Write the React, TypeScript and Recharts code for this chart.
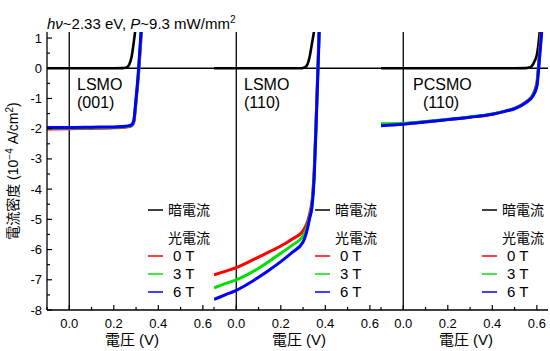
import { LineChart, Line, XAxis, YAxis, ReferenceLine } from "recharts";

const FONT = "'Liberation Sans', Arial, 'Noto Sans CJK JP', sans-serif";

// LSMO (001)
const lsmo001V = [-0.1, 0, 0.1, 0.2, 0.25, 0.27, 0.28, 0.285, 0.29, 0.3, 0.31, 0.32, 0.33];
const lsmo001T0 = [-2.01, -2.0, -1.99, -1.97, -1.95, -1.93, -1.9, -1.86, -1.78, -1.1, -0.3, 0.75, 1.9];
const lsmo001T3 = [-1.98, -1.98, -1.97, -1.955, -1.935, -1.91, -1.88, -1.84, -1.75, -1.05, -0.22, 0.85, 2.0];
const lsmo001T6 = [-1.96, -1.96, -1.95, -1.94, -1.92, -1.9, -1.87, -1.82, -1.72, -1.0, -0.15, 0.95, 2.1];
const lsmo001DarkV = [-0.1, 0.2, 0.24, 0.26, 0.27, 0.28, 0.29, 0.3, 0.31];
const lsmo001Dark = [0, 0, 0.005, 0.04, 0.13, 0.38, 0.88, 1.45, 2.1];

// LSMO (110)
const lsmo110V = [-0.1, -0.05, 0, 0.05, 0.1, 0.15, 0.2, 0.25, 0.3, 0.32, 0.33, 0.34, 0.35, 0.36, 0.37, 0.38];
const lsmo110T0 = [-6.84, -6.72, -6.6, -6.43, -6.25, -6.07, -5.88, -5.66, -5.38, -5.08, -4.8, -4.4, -3.4, -1.4, 0.8, 3.2];
const lsmo110T3 = [-7.27, -7.13, -7.0, -6.83, -6.62, -6.38, -6.12, -5.86, -5.55, -5.2, -4.9, -4.5, -3.5, -1.5, 0.7, 3.1];
const lsmo110T6 = [-7.65, -7.5, -7.35, -7.15, -6.92, -6.67, -6.4, -6.1, -5.75, -5.3, -4.95, -4.6, -3.6, -1.6, 0.6, 3.0];
const lsmo110DarkV = [-0.1, 0.25, 0.29, 0.3, 0.31, 0.32, 0.33, 0.34, 0.35, 0.36];
const lsmo110Dark = [0, 0, 0, 0.01, 0.04, 0.13, 0.4, 0.82, 1.25, 1.7];

// PCSMO (110)
const pcsmoV = [-0.1, 0, 0.1, 0.2, 0.3, 0.4, 0.46, 0.5, 0.55, 0.58, 0.6, 0.61, 0.62, 0.63, 0.64];
const pcsmoT0 = [-1.87, -1.84, -1.77, -1.7, -1.62, -1.52, -1.42, -1.33, -1.12, -0.9, -0.48, 0.35, 1.3, 2.3, 3.3];
const pcsmoT3 = [-1.84, -1.82, -1.76, -1.69, -1.61, -1.51, -1.41, -1.33, -1.13, -0.92, -0.55, 0.22, 1.12, 2.1, 3.1];
const pcsmoT6 = [-1.9, -1.85, -1.78, -1.7, -1.62, -1.52, -1.42, -1.34, -1.14, -0.94, -0.6, 0.15, 1.05, 2.0, 3.0];
const pcsmoDarkV = [-0.1, 0.5, 0.55, 0.57, 0.58, 0.59, 0.6, 0.61, 0.62];
const pcsmoDark = [0, 0, 0.005, 0.03, 0.1, 0.24, 0.45, 1.0, 1.9];

const yTicks = [-8, -7.5, -7, -6.5, -6, -5.5, -5, -4.5, -4, -3.5, -3, -2.5, -2, -1.5, -1, -0.5, 0, 0.5, 1];
const xTicks = [-0.1, 0, 0.1, 0.2, 0.3, 0.4, 0.5, 0.6];
const legendItems = ["0 T", "3 T", "6 T"];
const photoColors = ["#ff0000", "#00e000", "#0000ff"];

const zip = (v: number[], j: number[]) => v.map((x, i) => ({ v: x, j: j[i] }));

function YTick(props: any) {
  const { x, y, payload, showLabel } = props;
  const major = Number.isInteger(payload.value);
  return (
    <g>
      <line x1={x} x2={x + (major ? 5 : 3)} y1={y} y2={y} stroke="#000" strokeWidth={1.2} />
      {showLabel && major && (
        <text x={x - 5} y={y} dy={4.5} textAnchor="end" fontSize={13} fontFamily={FONT} fill="#000">
          {payload.value}
        </text>
      )}
    </g>
  );
}

function XTick(props: any) {
  const { x, y, payload } = props;
  const major = Math.round(payload.value * 10) % 2 === 0;
  return (
    <g>
      <line x1={x} x2={x} y1={y} y2={y - (major ? 5 : 3)} stroke="#000" strokeWidth={1.2} />
      {major && (
        <text x={x} y={y + 18} textAnchor="middle" fontSize={13} fontFamily={FONT} fill="#000">
          {payload.value.toFixed(1)}
        </text>
      )}
    </g>
  );
}

interface PanelProps {
  left: number;
  first: boolean;
  v: number[];
  photo: number[][];
  darkV: number[];
  dark: number[];
}

function Panel({ left, first, v, photo, darkV, dark }: PanelProps) {
  const yw = first ? 47 : 0;
  const width = first ? 218 : 175;
  const axisLine = { stroke: "#000", strokeWidth: 1.3 };
  return (
    <div style={{ position: "absolute", left, top: 0 }}>
      <LineChart
        width={width}
        height={351}
        margin={{ top: 32, right: 4, bottom: 0, left: first ? 0 : 4 }}
      >
        <XAxis
          dataKey="v"
          type="number"
          domain={[-0.1, 0.65]}
          ticks={xTicks}
          interval={0}
          tickSize={0}
          tickMargin={0}
          tickLine={false}
          tick={<XTick />}
          height={41}
          axisLine={axisLine}
          allowDataOverflow
        />
        <XAxis
          xAxisId="top"
          orientation="top"
          type="number"
          domain={[-0.1, 0.65]}
          height={0}
          tick={false}
          tickLine={false}
          axisLine={axisLine}
        />
        <YAxis
          type="number"
          domain={[-8, 1.2]}
          ticks={yTicks}
          interval={0}
          width={yw}
          tickSize={0}
          tickMargin={0}
          tickLine={false}
          tick={<YTick showLabel={first} />}
          axisLine={axisLine}
          allowDataOverflow
        />
        <YAxis
          yAxisId="right"
          orientation="right"
          type="number"
          domain={[-8, 1.2]}
          width={0}
          tick={false}
          tickLine={false}
          axisLine={axisLine}
        />
        <ReferenceLine y={0} stroke="#000" strokeWidth={1.3} />
        <ReferenceLine x={0} stroke="#000" strokeWidth={1.3} />
        <Line
          data={zip(darkV, dark)}
          dataKey="j"
          type="monotone"
          stroke="#000"
          strokeWidth={2.6}
          dot={false}
          activeDot={false}
          isAnimationActive={false}
        />
        {photo.map((j, i) => (
          <Line
            key={i}
            data={zip(v, j)}
            dataKey="j"
            type="monotone"
            stroke={photoColors[i]}
            strokeWidth={3}
            dot={false}
            activeDot={false}
            isAnimationActive={false}
          />
        ))}
      </LineChart>
    </div>
  );
}

const panelLefts = [47, 214, 381];
const sampleNames = [
  ["LSMO", "(001)"],
  ["LSMO", "(110)"],
  ["PCSMO", "(110)"],
];

function Overlay() {
  return (
    <svg
      width={550}
      height={351}
      style={{ position: "absolute", left: 0, top: 0, pointerEvents: "none" }}
      fontFamily={FONT}
    >
      <text x={47} y={29} fontSize={15} fill="#000">
        <tspan fontStyle="italic">hν</tspan>~2.33 eV, <tspan fontStyle="italic">P</tspan>~9.3 mW/mm
        <tspan dy={-6} fontSize={10}>2</tspan>
      </text>
      <text x={18} y={171} fontSize={14} textAnchor="middle" transform="rotate(-90 18 171)" fill="#000">
        電流密度 (10<tspan dy={-5} fontSize={10}>−4</tspan>
        <tspan dy={5}> A/cm</tspan>
        <tspan dy={-5} fontSize={10}>2</tspan>
        <tspan dy={5}>)</tspan>
      </text>
      {panelLefts.map((pl, k) => (
        <g key={k}>
          <text x={pl + (k === 2 ? 32 : 30)} y={90} fontSize={16} fill="#000">
            {sampleNames[k][0]}
          </text>
          <text x={pl + (k === 2 ? 42 : 30)} y={108} fontSize={16} fill="#000">
            {sampleNames[k][1]}
          </text>
          <text x={pl + 85} y={345} fontSize={15} textAnchor="middle" fill="#000">
            電圧 (V)
          </text>
          <line x1={pl + 101} x2={pl + 116} y1={210} y2={210} stroke="#000" strokeWidth={1.5} />
          <text x={pl + 163} y={215} fontSize={14} textAnchor="end" fill="#000">
            暗電流
          </text>
          <text x={pl + 163} y={243} fontSize={14} textAnchor="end" fill="#000">
            光電流
          </text>
          {legendItems.map((name, i) => (
            <g key={name}>
              <line
                x1={pl + 101}
                x2={pl + 116}
                y1={256 + i * 18}
                y2={256 + i * 18}
                stroke={photoColors[i]}
                strokeWidth={1.5}
              />
              <text x={pl + 126} y={261 + i * 18} fontSize={15} fill="#000">
                {name}
              </text>
            </g>
          ))}
        </g>
      ))}
    </svg>
  );
}

export default function App() {
  return (
    <div
      style={{
        position: "absolute",
        left: 0,
        top: 0,
        width: 550,
        height: 351,
        overflow: "hidden",
        background: "#fff",
      }}
    >
      <Panel left={0} first v={lsmo001V} photo={[lsmo001T0, lsmo001T3, lsmo001T6]} darkV={lsmo001DarkV} dark={lsmo001Dark} />
      <Panel left={210} first={false} v={lsmo110V} photo={[lsmo110T0, lsmo110T3, lsmo110T6]} darkV={lsmo110DarkV} dark={lsmo110Dark} />
      <Panel left={377} first={false} v={pcsmoV} photo={[pcsmoT0, pcsmoT3, pcsmoT6]} darkV={pcsmoDarkV} dark={pcsmoDark} />
      <Overlay />
    </div>
  );
}
